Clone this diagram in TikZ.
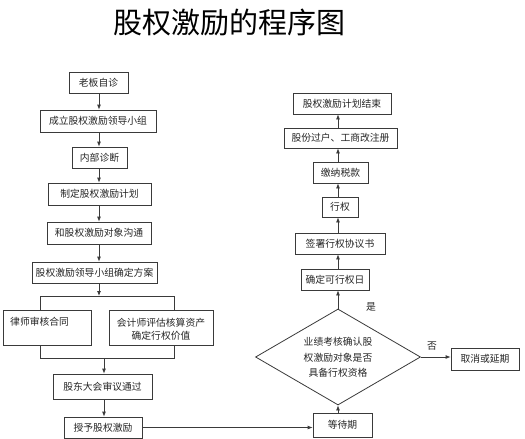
\documentclass[tikz,border=0pt]{standalone}
\usepackage{fontspec}
\setmainfont{Noto Sans CJK SC}
\usetikzlibrary{shapes.geometric,arrows.meta}
\definecolor{linec}{HTML}{3A3A3A}
\definecolor{txtc}{HTML}{262626}
\begin{document}
\begin{tikzpicture}[x=1pt,y=-1pt,
  box/.style={draw=linec, line width=0.8pt, inner sep=0pt, text=txtc,
    font=\fontsize{9.8}{11}\selectfont},
  lbl/.style={inner sep=0pt, text=txtc, font=\fontsize{9.8}{11}\selectfont},
  arr/.style={draw=linec, line width=0.8pt, -{Latex[length=5pt,width=4pt]}},
  ln/.style={draw=linec, line width=0.8pt}]
\useasboundingbox (0,0) rectangle (525,439);
\fill[white] (0,0) rectangle (525,439);

\node[inner sep=0pt, text=black, font=\fontsize{29}{32}\selectfont] (title) at (229.5,22) {股权激励的程序图};

% left column
\coordinate (axL) at (99,0);
\coordinate (axM) at (104,0);
\node[box, minimum width=59pt, minimum height=21pt] (n1) at (98.5,82.5) {老板自诊};
\node[box, minimum width=116pt, minimum height=22pt] (n2) at (98,121) {成立股权激励领导小组};
\node[box, minimum width=55pt, minimum height=21pt] (n3) at (99.5,157.5) {内部诊断};
\node[box, minimum width=103pt, minimum height=22pt] (n4) at (99.5,194) {制定股权激励计划};
\node[box, minimum width=104pt, minimum height=22pt] (n5) at (99,233) {和股权激励对象沟通};
\node[box, minimum width=125pt, minimum height=21pt] (n6) at (94.5,272.5) {股权激励领导小组确定方案};
\node[box, minimum width=88pt, minimum height=35pt] (n7) at (47,327.5) {};
\node[lbl, anchor=west] (n7t) at (10,322) {律师审核合同};
\node[box, minimum width=104pt, minimum height=35pt] (n8) at (161,327.5) {};
\node[lbl, align=center, font=\fontsize{9.8}{13.5}\selectfont] (n8t) at (161,329.5) {会计师评估核算资产\\确定行权价值};
\node[box, minimum width=99pt, minimum height=25pt] (n9) at (102.5,386.5) {股东大会审议通过};
\node[box, minimum width=78pt, minimum height=21pt] (n10) at (103,427.5) {授予股权激励};

\coordinate (fork) at (99,296);
\coordinate (forkL) at (40.5,296);
\coordinate (forkR) at (174,296);
\coordinate (mergeL) at (40.5,358);
\coordinate (mergeR) at (174,358);
\coordinate (merge) at (104,358);

\draw[arr] (n1.south -| axL) -- (n2.north -| axL);
\draw[arr] (n2.south -| axL) -- (n3.north -| axL);
\draw[arr] (n3.south -| axL) -- (n4.north -| axL);
\draw[arr] (n4.south -| axL) -- (n5.north -| axL);
\draw[arr] (n5.south -| axL) -- (n6.north -| axL);
\draw[arr] (n6.south -| axL) -- (fork);
\draw[ln] (forkL) -- (forkR);
\draw[ln] (forkL) -- (n7.north -| forkL);
\draw[ln] (forkR) -- (n8.north -| forkR);
\draw[ln] (n7.south -| mergeL) -- (mergeL) -- (mergeR) -- (n8.south -| mergeR);
\draw[arr] (merge) -- (n9.north -| axM);
\draw[arr] (n9.south -| axM) -- (n10.north -| axM);

% right column
\coordinate (axR) at (338,0);
\node[box, minimum width=59pt, minimum height=24pt] (n11) at (342.5,425) {等待期};
\node[draw=linec, line width=0.8pt, diamond, minimum width=165pt, minimum height=96pt, inner sep=0pt] (d) at (338,357) {};
\node[lbl, align=center, font=\fontsize{9.8}{15.5}\selectfont] (dt) at (338,357.5) {业绩考核确认股\\权激励对象是否\\具备行权资格};
\node[box, minimum width=68pt, minimum height=22pt] (n13) at (485,359) {取消或延期};
\node[box, minimum width=68pt, minimum height=21pt] (n12) at (335,279.5) {确定可行权日};
\node[box, minimum width=90pt, minimum height=21pt] (n14) at (340,243.5) {签署行权协议书};
\node[box, minimum width=36pt, minimum height=20pt] (n15) at (340,207) {行权};
\node[box, minimum width=55pt, minimum height=21pt] (n16) at (340.5,172.5) {缴纳税款};
\node[box, minimum width=113pt, minimum height=20pt] (n17) at (340.5,138) {股份过户、工商改注册};
\node[box, minimum width=98pt, minimum height=21pt] (n18) at (342,103.5) {股权激励计划结束};

\node[lbl] (yes) at (371,307) {是};
\node[lbl] (no) at (432,346) {否};

\draw[arr] (n10.east) -- (n11.west |- n10.east);
\draw[arr] (n11.north -| axR) -- (d.south);
\draw[arr] (d.north) -- (n12.south -| axR);
\draw[arr] (d.east) -- (n13.west |- d.east);
\draw[arr] (n12.north -| axR) -- (n14.south -| axR);
\draw[arr] (n14.north -| axR) -- (n15.south -| axR);
\draw[arr] (n15.north -| axR) -- (n16.south -| axR);
\draw[arr] (n16.north -| axR) -- (n17.south -| axR);
\draw[arr] (n17.north -| axR) -- (n18.south -| axR);
\end{tikzpicture}
\end{document}
